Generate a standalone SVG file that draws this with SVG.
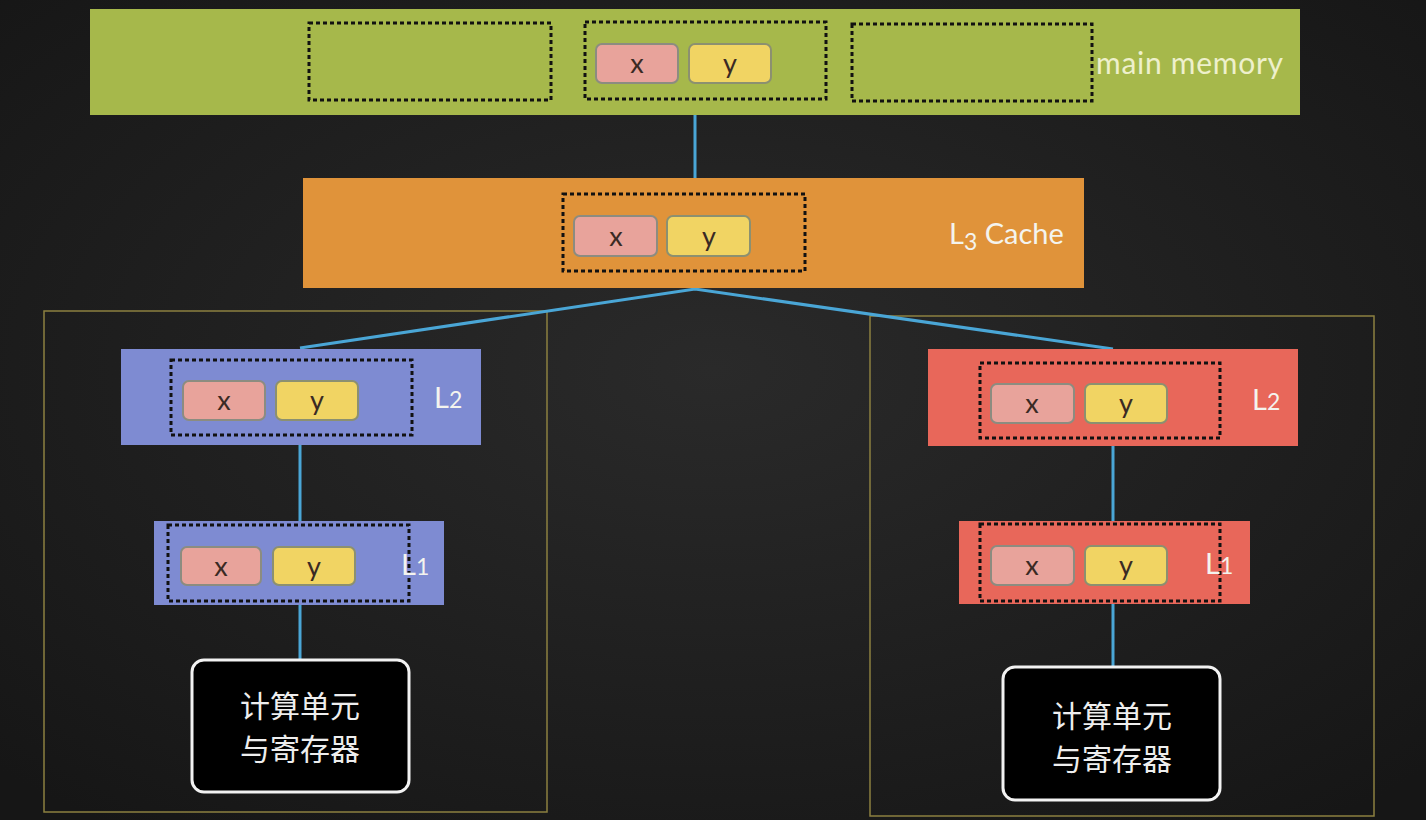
<svg xmlns="http://www.w3.org/2000/svg" width="1426" height="820" viewBox="0 0 1426 820">
<defs>
<style>
.dot{fill:none;stroke:#111;stroke-width:3;stroke-dasharray:4 3}
.cx{fill:#e8a39b;stroke:#8c8c80;stroke-width:2}
.cy{fill:#f1d463;stroke:#8c9070;stroke-width:2}
.ct{font-family:Lato,"Open Sans",sans-serif;font-size:27px;fill:#3a2a24;text-anchor:middle}
.lbl{font-family:Lato,"Open Sans",sans-serif;font-size:29px;fill:#f4f4ee}
.conn{stroke:#4aa6d6;stroke-width:3;fill:none}
.frame{fill:none;stroke:#8c8040;stroke-width:1.5}
.cpu{fill:#000;stroke:#f2f2f2;stroke-width:3}
.cjk{font-family:"Noto Sans CJK SC",sans-serif;font-size:30px;fill:#eeeeee;text-anchor:middle}
</style>
<radialGradient id="bg" cx="50%" cy="45%" r="70%">
<stop offset="0" stop-color="#2a2a2a"/>
<stop offset="1" stop-color="#161616"/>
</radialGradient>
</defs>
<rect width="1426" height="820" fill="url(#bg)"/>
<g id="frames">
<rect class="frame" x="44" y="311" width="503" height="501"/>
<rect class="frame" x="870" y="316" width="504" height="500"/>
</g>
<g id="connectors">
<line class="conn" x1="695" y1="115" x2="695" y2="178"/>
<polyline class="conn" points="300,348 695,289 1113,349"/>
<line class="conn" x1="300" y1="445" x2="300" y2="521"/>
<line class="conn" x1="300" y1="605" x2="300" y2="660"/>
<line class="conn" x1="1113" y1="446" x2="1113" y2="521"/>
<line class="conn" x1="1113" y1="604" x2="1113" y2="667"/>
</g>
<g id="main-memory">
<rect x="90" y="9" width="1210" height="106" fill="#a6b84b"/>
<rect class="dot" x="309" y="23" width="242" height="77"/>
<rect class="dot" x="585" y="22" width="241" height="77"/>
<rect class="dot" x="852" y="24" width="240" height="77"/>
<rect class="cx" x="596" y="44" width="82" height="39" rx="6"/>
<rect class="cy" x="689" y="44" width="82" height="39" rx="6"/>
<text class="ct" x="637" y="73">x</text>
<text class="ct" x="730" y="73">y</text>
<text class="lbl" x="1096" y="74" textLength="187" style="font-size:30px;fill:#eef0cc">main memory</text>
</g>
<g id="l3-cache">
<rect x="303" y="178" width="781" height="110" fill="#e0933a"/>
<rect class="dot" x="563" y="194" width="242" height="77"/>
<rect class="cx" x="574" y="216" width="83" height="40" rx="6"/>
<rect class="cy" x="667" y="216" width="83" height="40" rx="6"/>
<text class="ct" x="616" y="246">x</text>
<text class="ct" x="709" y="246">y</text>
<text class="lbl" x="949" y="244">L<tspan dy="6" style="font-size:23px">3</tspan><tspan dy="-6"> Cache</tspan></text>
</g>
<g id="left-l2">
<rect x="121" y="349" width="360" height="96" fill="#7e8bd2"/>
<rect class="dot" x="171" y="360" width="241" height="75"/>
<rect class="cx" x="183" y="381" width="82" height="39" rx="6"/>
<rect class="cy" x="276" y="381" width="82" height="39" rx="6"/>
<text class="ct" x="224" y="410">x</text>
<text class="ct" x="317" y="410">y</text>
<text class="lbl" x="434" y="408">L<tspan style="font-size:23px">2</tspan></text>
</g>
<g id="left-l1">
<rect x="154" y="521" width="290" height="84" fill="#7e8bd2"/>
<rect class="dot" x="168" y="525" width="241" height="76"/>
<rect class="cx" x="181" y="547" width="80" height="38" rx="6"/>
<rect class="cy" x="273" y="547" width="82" height="38" rx="6"/>
<text class="ct" x="221" y="576">x</text>
<text class="ct" x="314" y="576">y</text>
<text class="lbl" x="401" y="575">L<tspan style="font-size:23px">1</tspan></text>
</g>
<g id="left-cpu">
<rect class="cpu" x="192" y="660" width="217" height="132" rx="12"/>
<text class="cjk" x="300" y="717">计算单元</text>
<text class="cjk" x="300" y="760">与寄存器</text>
</g>
<g id="right-l2">
<rect x="928" y="349" width="370" height="97" fill="#e8675a"/>
<rect class="dot" x="980" y="363" width="240" height="75"/>
<rect class="cx" x="991" y="384" width="83" height="39" rx="6"/>
<rect class="cy" x="1085" y="384" width="82" height="39" rx="6"/>
<text class="ct" x="1032" y="413">x</text>
<text class="ct" x="1126" y="413">y</text>
<text class="lbl" x="1252" y="410">L<tspan style="font-size:23px">2</tspan></text>
</g>
<g id="right-l1">
<rect x="959" y="521" width="291" height="83" fill="#e8675a"/>
<rect class="dot" x="980" y="524" width="240" height="77"/>
<rect class="cx" x="991" y="546" width="83" height="39" rx="6"/>
<rect class="cy" x="1085" y="546" width="82" height="39" rx="6"/>
<text class="ct" x="1032" y="575">x</text>
<text class="ct" x="1126" y="575">y</text>
<text class="lbl" x="1205" y="574">L<tspan style="font-size:23px">1</tspan></text>
</g>
<g id="right-cpu">
<rect class="cpu" x="1003" y="667" width="217" height="133" rx="12"/>
<text class="cjk" x="1112" y="727">计算单元</text>
<text class="cjk" x="1112" y="770">与寄存器</text>
</g>
</svg>
